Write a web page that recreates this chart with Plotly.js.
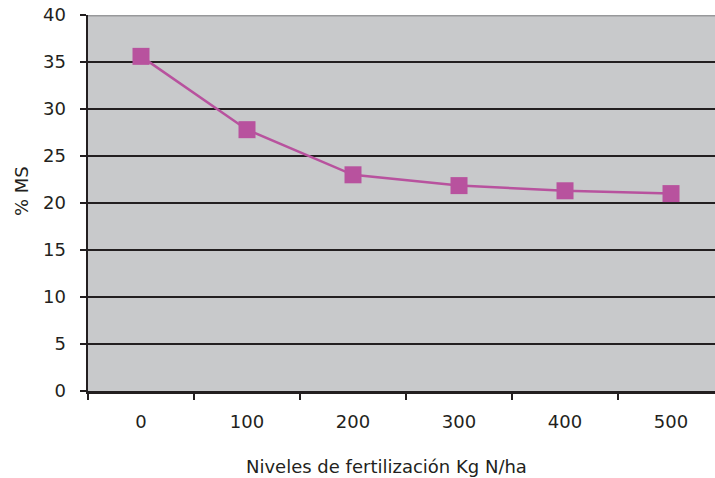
<!DOCTYPE html>
<html>
<head>
<meta charset="utf-8">
<script src="https://cdn.plot.ly/plotly-3.0.1.min.js"></script>
<style>html,body{margin:0;padding:0;background:#fff;}#chart{width:715px;height:478px;}</style>
</head>
<body>
<div id="chart"></div>
<script>
const categories = ["0", "100", "200", "300", "400", "500"];
const msValues = [35.6, 27.8, 23.0, 21.85, 21.3, 21.0];
const yTicks = [0, 5, 10, 15, 20, 25, 30, 35, 40];
const xTitle = "Niveles de fertilización Kg N/ha";
const yTitle = "% MS";

const dark = "#231f20";
const pink = "#b8529e";
const fontFam = "DejaVu Sans, Liberation Sans, Arial, sans-serif";

const trace = {
  x: categories,
  y: msValues,
  type: "scatter",
  mode: "lines+markers",
  line: {color: pink, width: 2.5},
  marker: {symbol: "square", size: 17, color: pink},
  cliponaxis: false,
  showlegend: false,
  hoverinfo: "x+y"
};

const layout = {
  width: 715,
  height: 478,
  margin: {l: 88, r: 0, t: 15, b: 87},
  paper_bgcolor: "#ffffff",
  plot_bgcolor: "#c8c9cb",
  font: {family: fontFam, size: 18, color: dark},
  xaxis: {
    type: "category",
    range: [-0.5, 5.415],
    tickson: "boundaries",
    ticks: "outside",
    ticklen: 6,
    tickwidth: 2.5,
    tickcolor: dark,
    showline: true,
    linecolor: dark,
    linewidth: 2.5,
    showgrid: false,
    zeroline: false,
    ticklabelstandoff: 13,
    tickfont: {family: fontFam, size: 18, color: dark},
    fixedrange: true
  },
  yaxis: {
    range: [0, 40],
    tickvals: yTicks,
    ticktext: yTicks.map(String),
    ticks: "outside",
    ticklen: 6,
    tickwidth: 2.5,
    tickcolor: dark,
    showline: true,
    linecolor: dark,
    linewidth: 2.5,
    showgrid: true,
    gridcolor: dark,
    gridwidth: 2.5,
    zeroline: false,
    ticklabelstandoff: 10,
    tickfont: {family: fontFam, size: 18, color: dark},
    fixedrange: true
  },
  shapes: [
    {type: "line", xref: "paper", yref: "y", x0: 0, x1: 1, y0: 40, y1: 40,
     line: {color: "#98999b", width: 3}, layer: "above"}
  ],
  annotations: [
    {text: xTitle, xref: "paper", yref: "paper", x: (386 - 88) / 627, y: -0.2,
     xanchor: "center", yanchor: "middle", showarrow: false,
     font: {family: fontFam, size: 18, color: dark}},
    {text: yTitle, xref: "paper", yref: "paper", x: -(88 - 21) / 627, y: (391 - 191) / 376,
     xanchor: "center", yanchor: "middle", textangle: -90, showarrow: false,
     font: {family: fontFam, size: 18, color: dark}}
  ]
};

Plotly.newPlot("chart", [trace], layout, {displayModeBar: false, staticPlot: true});
</script>
</body>
</html>
